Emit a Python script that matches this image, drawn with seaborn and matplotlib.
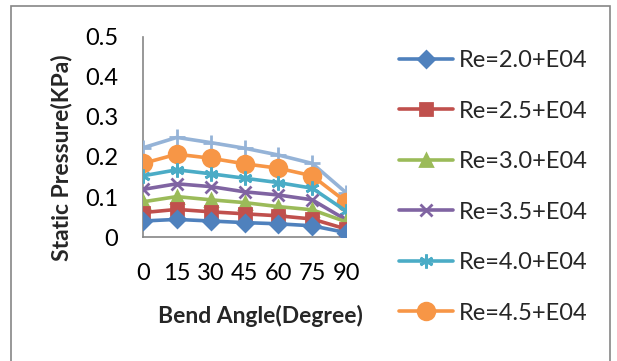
import numpy as np
import pandas as pd
import matplotlib.pyplot as plt
import seaborn as sns
from matplotlib.patches import Rectangle

sns.set_style("white")
plt.rcParams['font.family'] = ['Lato', 'DejaVu Sans']

angles = [0, 15, 30, 45, 60, 75, 90]
re_20 = [0.040, 0.044, 0.040, 0.036, 0.033, 0.028, 0.011]
re_25 = [0.061, 0.069, 0.063, 0.058, 0.053, 0.045, 0.020]
re_30 = [0.088, 0.101, 0.093, 0.086, 0.076, 0.068, 0.038]
re_35 = [0.119, 0.133, 0.126, 0.113, 0.105, 0.093, 0.043]
re_40 = [0.153, 0.168, 0.158, 0.147, 0.136, 0.122, 0.065]
re_45 = [0.184, 0.207, 0.197, 0.183, 0.172, 0.153, 0.088]
re_50 = [0.223, 0.249, 0.236, 0.222, 0.205, 0.184, 0.111]

labels = ['Re=2.0+E04', 'Re=2.5+E04', 'Re=3.0+E04', 'Re=3.5+E04',
          'Re=4.0+E04', 'Re=4.5+E04', 'Re=5.0+E04']
series = [re_20, re_25, re_30, re_35, re_40, re_45, re_50]

colors = ['#4F81BD', '#C0504D', '#9BBB59', '#8064A2', '#4BACC6', '#F79646', '#95B3D7']
markers = ['D', 's', '^', 'x', (6, 2, 0), 'o', '+']
msizes = [8, 8, 9, 9, 10, 12, 11]

W, H = 617, 361
fig = plt.figure(figsize=(W / 100, H / 100), dpi=100)
ax = fig.add_axes([143 / W, (H - 237) / H, (346 - 143) / W, 200 / H])

# draw top series first so lower ones sit on top like the original
for i in reversed(range(len(series))):
    sns.lineplot(x=angles, y=series[i], ax=ax, color=colors[i], marker=markers[i],
                 markersize=msizes[i], markeredgewidth=2, markeredgecolor=colors[i],
                 linewidth=2.6, label=labels[i], zorder=3 + (7 - i))

ax.set_xlim(0, 90)
ax.set_ylim(0, 0.5)
ax.set_xticks(angles)
ax.set_yticks([0, 0.1, 0.2, 0.3, 0.4, 0.5])
ax.set_yticklabels(['0', '0.1', '0.2', '0.3', '0.4', '0.5'])
ax.tick_params(axis='both', length=0, labelsize=17, colors='black')
ax.tick_params(axis='x', pad=19)
ax.tick_params(axis='y', pad=18)
for s in ['top', 'right']:
    ax.spines[s].set_visible(False)
for s in ['left', 'bottom']:
    ax.spines[s].set_color('#868686')
    ax.spines[s].set_linewidth(1.2)
ax.patch.set_alpha(0)

ax.set_xlabel('Bend Angle(Degree)', fontsize=16.5, fontweight='bold')
ax.set_ylabel('Static Pressure(KPa)', fontsize=16.5, fontweight='bold')
ax.xaxis.set_label_coords((260 - 143) / (346 - 143), -(305 - 237) / 200)
ax.yaxis.set_label_coords(-(143 - 72) / (346 - 143), (237 - 158) / 200)

handles, labs = ax.get_legend_handles_labels()
order = {l: h for h, l in zip(handles, labs)}
leg = ax.legend([order[l] for l in labels[:6]], labels[:6],
                loc='upper left', bbox_to_anchor=(399 / W, (H - 50) / H),
                bbox_transform=fig.transFigure, frameon=False, fontsize=17,
                handlelength=2.3, handletextpad=0.25, labelspacing=1.25,
                borderpad=0, borderaxespad=0)

fig.patches.append(Rectangle((11 / W, -0.05), (610 - 11) / W, (H - 6) / H + 0.05,
                             transform=fig.transFigure, fill=False,
                             edgecolor='#868686', linewidth=1.2))

fig.savefig('out.png', dpi=100)
